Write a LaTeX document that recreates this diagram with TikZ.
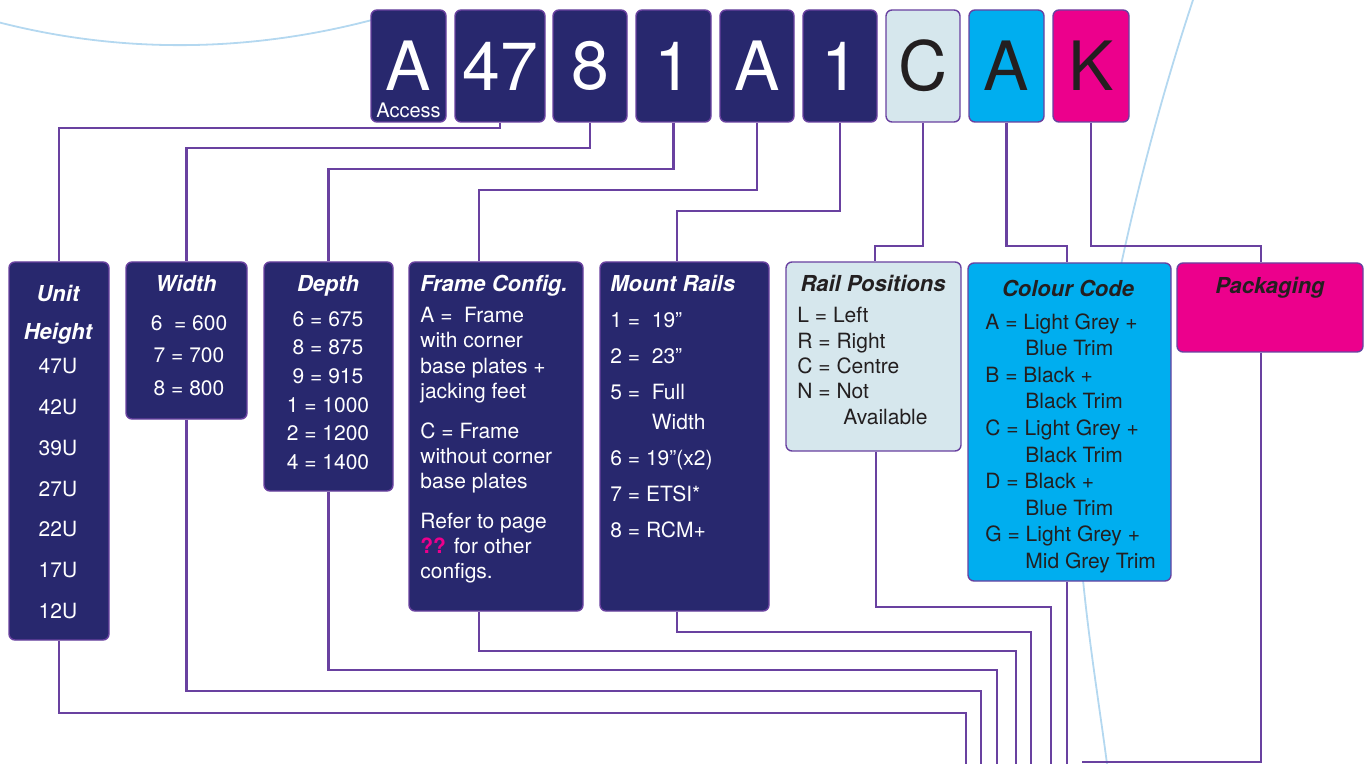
\documentclass[tikz,border=0pt]{standalone}
\usepackage{fontspec}
\setmainfont{TeX Gyre Heros}
\definecolor{navy}{RGB}{40,40,110}
\definecolor{linkpurple}{RGB}{105,65,160}
\definecolor{pale}{RGB}{214,231,237}
\definecolor{cyanfill}{RGB}{0,174,239}
\definecolor{magfill}{RGB}{236,0,140}
\definecolor{ink}{RGB}{35,31,32}
\definecolor{swooshblue}{RGB}{180,216,240}

\begin{document}
\begin{tikzpicture}[x=0.5pt,y=-0.5pt,
  code/.style={draw=linkpurple, line width=0.7pt, rounded corners=3pt, fill=navy, text=white, inner sep=0pt, minimum height=56pt, font=\fontsize{34}{34}\selectfont},
  panel/.style={draw=linkpurple, line width=0.7pt, rounded corners=3pt, inner sep=0pt},
  link/.style={draw=linkpurple, line width=1.2pt},
  head/.style={inner sep=0pt, align=center, font=\fontsize{11}{19}\selectfont\bfseries\itshape},
  body/.style={inner sep=0pt, align=left, anchor=north west}]

\useasboundingbox (0,0) rectangle (1369,764);
\draw[swooshblue, line width=0.9pt] (-10,20) .. controls (120,55) and (250,52) .. (372,20);
\draw[swooshblue, line width=0.9pt] (1193,0) .. controls (1120,220) and (1075,470) .. (1083,580) .. controls (1090,650) and (1100,710) .. (1107,764);

% code boxes
\node[code, minimum width=37.5pt] (acc) at (408.5,66) {A};
\node[code, minimum width=45pt] (uh) at (500,66) {47};
\node[code, minimum width=37pt] (wd) at (590,66) {8};
\node[code, minimum width=37.5pt] (dp) at (673.5,66) {1};
\node[code, minimum width=37pt] (fc) at (757,66) {A};
\node[code, minimum width=37pt] (mr) at (840,66) {1};
\node[code, fill=pale, text=ink, minimum width=37pt] (rp) at (923,66) {C};
\node[code, fill=cyanfill, text=ink, minimum width=37.5pt] (cc) at (1006.5,66) {A};
\node[code, fill=magfill, text=ink, minimum width=38pt] (pk) at (1091,66) {K};
\node[text=white, inner sep=0pt, anchor=base, font=\fontsize{10}{10}\selectfont] (accword) at (408.5,118) {Access};

% option panels
\node[panel, fill=navy, minimum width=50pt, minimum height=189pt] (height) at (59,451) {};
\node[panel, fill=navy, minimum width=60.5pt, minimum height=78.5pt] (width) at (186.5,340.5) {};
\node[panel, fill=navy, minimum width=64.5pt, minimum height=114.5pt] (depth) at (328.5,376.5) {};
\node[panel, fill=navy, minimum width=87pt, minimum height=174.5pt] (frame) at (496,436.5) {};
\node[panel, fill=navy, minimum width=84.5pt, minimum height=174.5pt] (rails) at (684.5,436.5) {};
\node[panel, fill=pale, minimum width=87.5pt, minimum height=94.5pt] (railpos) at (873.5,356.5) {};
\node[panel, fill=cyanfill, minimum width=101.5pt, minimum height=159pt] (colour) at (1069.5,422) {};
\node[panel, fill=magfill, minimum width=93pt, minimum height=44.5pt] (pack) at (1270,307.5) {};

% panel texts
\node[head, text=white, anchor=north] (heightT) at (58,285) {Unit\\Height};
\node[body, text=white, anchor=north, align=center, font=\fontsize{10.5}{20.4}\selectfont] (heightV) at (58,358) {47U\\42U\\39U\\27U\\22U\\17U\\12U};
\node[head, text=white, anchor=north] (widthT) at (186,275) {Width};
\node[body, text=white, anchor=north, align=center, font=\fontsize{10.5}{16.25}\selectfont] (widthV) at (189,315) {6 \ = 600\\7 = 700\\8 = 800};
\node[head, text=white, anchor=north] (depthT) at (328,275) {Depth};
\node[body, text=white, anchor=north, align=center, font=\fontsize{10.5}{14.3}\selectfont] (depthV) at (328,311) {6 = 675\\8 = 875\\9 = 915\\1 = 1000\\2 = 1200\\4 = 1400};
\node[head, text=white, anchor=north west] (frameT) at (420,275) {Frame Config.};
\node[body, text=white, font=\fontsize{10.5}{12.6}\selectfont] (frameV) at (420,307) {A = \ Frame\\with corner\\base plates +\\jacking feet\\[7.3pt]C = Frame\\without corner\\base plates\\[7.3pt]Refer to page\\\textcolor{magfill}{\bfseries ??} for other\\configs.};
\node[head, text=white, anchor=north west] (railsT) at (610,275) {Mount Rails};
\node[body, text=white, font=\fontsize{10.5}{18}\selectfont] (railsV) at (610,312) {1 = \ 19”\\2 = \ 23”\\5 = \ Full\\[-3pt]\phantom{5 = \ }Width\\6 = 19”(x2)\\7 = ETSI*\\8 = RCM+};
\node[head, text=ink, anchor=north] (railposT) at (873,275) {Rail Positions};
\node[body, text=ink, font=\fontsize{10.5}{12.7}\selectfont] (railposV) at (797,307) {L = Left\\R = Right\\C = Centre\\N = Not\\\hspace*{23pt}Available};
\node[head, text=ink, anchor=north] (colourT) at (1068,280) {Colour Code};
\node[body, text=ink, font=\fontsize{10.5}{13.3}\selectfont] (colourV) at (985,313) {A = Light Grey +\\\hspace*{20pt}Blue Trim\\B = Black +\\\hspace*{20pt}Black Trim\\C = Light Grey +\\\hspace*{20pt}Black Trim\\D = Black +\\\hspace*{20pt}Blue Trim\\G = Light Grey +\\\hspace*{20pt}Mid Grey Trim};
\node[head, text=ink, anchor=north] (packT) at (1270,277) {Packaging};

% from code to panel
\draw[link] (uh.south) |- (height.north |- 0,128) -- (height.north);
\draw[link] (wd.south) |- (width.north |- 0,148) -- (width.north);
\draw[link] (dp.south) |- (depth.north |- 0,169) -- (depth.north);
\draw[link] (fc.south) |- (479,190) -- (frame.north -| 479,0);
\draw[link] (mr.south) |- (677,211) -- (rails.north -| 677,0);
\draw[link] (rp.south) |- (875,246) -- (railpos.north -| 875,0);
\draw[link] (cc.south) |- (1067,246) -- (colour.north -| 1067,0);
\draw[link] (pk.south) |- (1261,246) -- (pack.north -| 1261,0);

% panels out to the bottom
\coordinate (outH) at (966,764);
\coordinate (outW) at (981,764);
\coordinate (outD) at (997,764);
\coordinate (outF) at (1016,764);
\coordinate (outM) at (1031,764);
\coordinate (outR) at (1051,764);
\coordinate (outC) at (1067,764);
\coordinate (outP) at (1082,762);
\draw[link] (height.south) |- (966,713) -- (outH);
\draw[link] (width.south) |- (981,691) -- (outW);
\draw[link] (depth.south) |- (997,670) -- (outD);
\draw[link] (frame.south -| 479,0) |- (1016,651) -- (outF);
\draw[link] (rails.south -| 677,0) |- (1031,632) -- (outM);
\draw[link] (railpos.south -| 876,0) |- (1051,607) -- (outR);
\draw[link] (colour.south -| 1067,0) -- (outC);
\draw[link] (pack.south -| 1261,0) |- (outP);
\end{tikzpicture}
\end{document}
